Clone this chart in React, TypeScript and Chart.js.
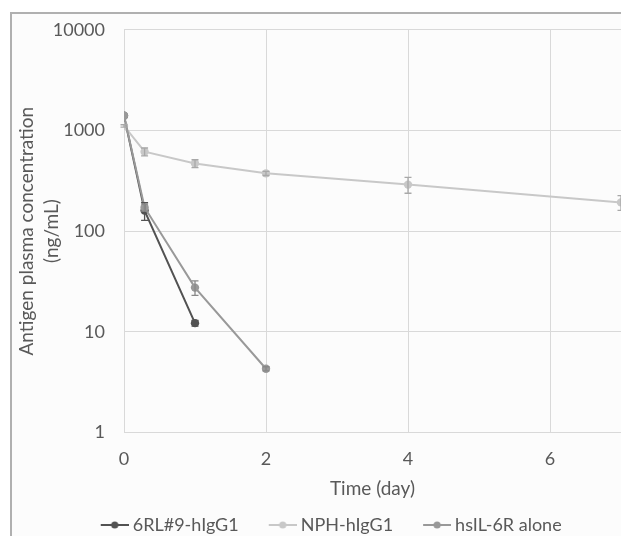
import React, { useEffect, useRef } from 'react';
import { Chart, registerables } from 'chart.js';

Chart.register(...registerables);

// ---- data ----
const timeDays = [0, 0.29, 1, 2, 4, 7];
const seriesNames = ['6RL#9-hIgG1', 'NPH-hIgG1', 'hsIL-6R alone'];
const rl9Values = [1400, 160, 12.2];
const rl9Errors = [0, 32, 0.8];
const nphValues = [1110, 615, 470, 375, 290, 193];
const nphErrors = [30, 55, 42, 18, 52, 32];
const il6rValues = [1400, 172, 27.5, 4.3];
const il6rErrors = [0, 14, 4.5, 0.2];
const xTickValues = [0, 2, 4, 6];
const yTickValues = [1, 10, 100, 1000, 10000];

const lineColors = ['#525252', '#c8c8c8', '#999999'];
const errorColors = ['#525252', '#a8a8a8', '#888888'];
const TEXT = '#595959';
const FONT = 'Lato, "Open Sans", sans-serif';

const errorBarPlugin = {
  id: 'errorBars',
  afterDatasetsDraw(chart: any) {
    const ctx = chart.ctx;
    const xs = chart.scales.x;
    const ys = chart.scales.y;
    chart.data.datasets.forEach((ds: any) => {
      const errs: number[] = ds.errors;
      if (!errs) return;
      ctx.save();
      ctx.strokeStyle = ds.errorColor;
      ctx.lineWidth = 1.3;
      ds.data.forEach((p: any, j: number) => {
        const e = errs[j];
        if (!e) return;
        const x = xs.getPixelForValue(p.x);
        const y1 = ys.getPixelForValue(p.y + e);
        const y2 = ys.getPixelForValue(Math.max(p.y - e, 0.001));
        ctx.beginPath();
        ctx.moveTo(x, y1);
        ctx.lineTo(x, y2);
        ctx.moveTo(x - 3.5, y1);
        ctx.lineTo(x + 3.5, y1);
        ctx.moveTo(x - 3.5, y2);
        ctx.lineTo(x + 3.5, y2);
        ctx.stroke();
      });
      ctx.restore();
    });
  },
};

function makeIcon(color: string) {
  const c = document.createElement('canvas');
  c.width = 60;
  c.height = 10;
  const g = c.getContext('2d')!;
  g.strokeStyle = color;
  g.lineWidth = 2;
  g.beginPath();
  g.moveTo(32, 5);
  g.lineTo(60, 5);
  g.stroke();
  g.fillStyle = color;
  g.beginPath();
  g.arc(46, 5, 3.6, 0, Math.PI * 2);
  g.fill();
  return c;
}

export default function App() {
  const ref = useRef<HTMLCanvasElement>(null);

  useEffect(() => {
    if (!ref.current) return;
    const seriesValues = [rl9Values, nphValues, il6rValues];
    const seriesErrors = [rl9Errors, nphErrors, il6rErrors];
    const orders = [2, 1, 0];
    const icons = lineColors.map(makeIcon);

    const datasets = seriesNames.map((name, i) => ({
      label: name,
      data: seriesValues[i].map((v, j) => ({ x: timeDays[j], y: v })),
      errors: seriesErrors[i],
      errorColor: errorColors[i],
      borderColor: lineColors[i],
      backgroundColor: lineColors[i],
      pointBackgroundColor: lineColors[i],
      pointBorderColor: lineColors[i],
      pointRadius: 4.2,
      pointBorderWidth: 0,
      borderWidth: 2,
      tension: 0,
      order: orders[i],
    }));

    const chart = new Chart(ref.current, {
      type: 'line',
      data: { datasets } as any,
      options: {
        responsive: false,
        animation: false,
        devicePixelRatio: 1,
        layout: { padding: { left: 14.4, right: 31, top: 27, bottom: 0 } },
        plugins: {
          tooltip: { enabled: false },
          legend: {
            position: 'bottom',
            labels: {
              usePointStyle: true,
              pointStyleWidth: 50,
              padding: 3,
              color: TEXT,
              font: { family: FONT, size: 18 },
              generateLabels: (c: any) =>
                c.data.datasets.map((ds: any, i: number) => ({
                  text: ds.label,
                  pointStyle: icons[i],
                  fillStyle: lineColors[i],
                  strokeStyle: lineColors[i],
                  lineWidth: 0,
                  hidden: false,
                  datasetIndex: i,
                  fontColor: TEXT,
                })),
            },
          },
        },
        scales: {
          x: {
            type: 'linear',
            min: 0,
            max: 7,
            afterBuildTicks: (s: any) => {
              s.ticks = xTickValues.map((v) => ({ value: v }));
            },
            afterFit: (s: any) => {
              s.height = 80.5;
            },
            grid: { color: '#d9d9d9', drawTicks: false, lineWidth: 1 },
            border: { display: false },
            ticks: { padding: 16, color: TEXT, font: { family: FONT, size: 18 } },
            title: {
              display: true,
              text: 'Time (day)',
              color: TEXT,
              font: { family: FONT, size: 19 },
              padding: { top: 8, bottom: 12.5 },
            },
          },
          y: {
            type: 'logarithmic',
            min: 1,
            max: 10000,
            afterBuildTicks: (s: any) => {
              s.ticks = yTickValues.map((v) => ({ value: v }));
            },
            afterFit: (s: any) => {
              s.width = 109.6;
            },
            grid: { color: '#d9d9d9', drawTicks: false, lineWidth: 1 },
            border: { display: false },
            ticks: {
              padding: 19,
              color: TEXT,
              font: { family: FONT, size: 18 },
              callback: (v: any) => String(v),
            },
            title: {
              display: true,
              text: ['Antigen plasma concentration', '(ng/mL)'],
              color: TEXT,
              font: { family: FONT, size: 19, lineHeight: 1.32 },
              padding: 0,
            },
          },
        },
      } as any,
      plugins: [errorBarPlugin],
    });
    return () => chart.destroy();
  }, []);

  return (
    <div
      style={{
        position: 'fixed',
        left: 0,
        top: 0,
        width: 621,
        height: 536,
        overflow: 'hidden',
        background: '#ffffff',
      }}
    >
      <div
        style={{
          position: 'absolute',
          left: 10,
          top: 12,
          width: 641,
          height: 600,
          border: '2px solid #b0b0b0',
          background: '#fcfcfc',
          boxSizing: 'border-box',
        }}
      />
      <canvas
        ref={ref}
        width={652}
        height={544}
        style={{ position: 'absolute', left: 0, top: 0, width: 652, height: 544, display: 'block' }}
      />
    </div>
  );
}
